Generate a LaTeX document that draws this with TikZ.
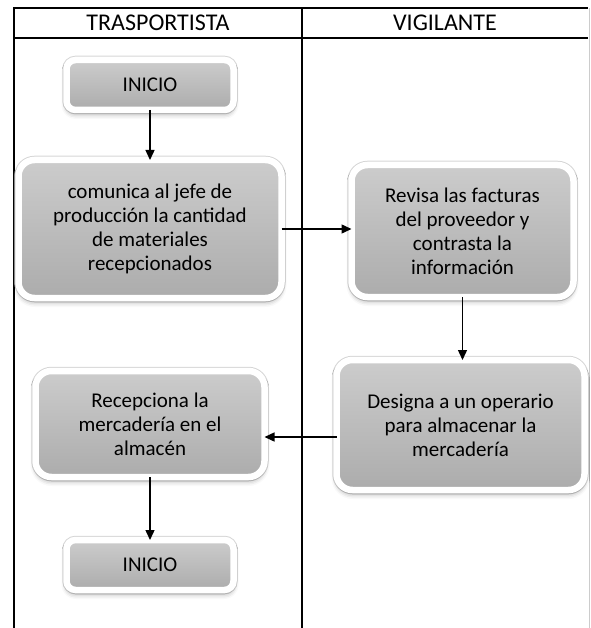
\documentclass[tikz,border=0pt]{standalone}
\usepackage{fontspec}
\setmainfont{Carlito}
\usepackage{tikz}
\usetikzlibrary{positioning, shapes.geometric, arrows.meta, shadows.blur}
\usetikzlibrary{calc}
\definecolor{cajaarriba}{RGB}{204,204,204}
\definecolor{cajamedio}{RGB}{195,195,195}
\definecolor{cajaabajo}{RGB}{172,172,172}
\tikzstyle{caja} = [rectangle, rounded corners=16pt, draw=white, line width=6.5pt, top color=cajaarriba, middle color=cajamedio, bottom color=cajaabajo, text centered, align=center, outer sep=0pt, inner sep=0pt, font=\fontsize{21}{24}\selectfont, text=black, preaction={draw=black!16, line width=8.5pt}, blur shadow={shadow xshift=0pt, shadow yshift=-4pt, shadow blur radius=5pt, shadow opacity=35}]
\tikzstyle{inicio} = [caja, rounded corners=9pt]
\tikzstyle{arrow} = [line width=1.4pt, -{Triangle[length=10pt,width=9pt]}]
\tikzstyle{linea} = [line width=1.1pt]
\tikzstyle{titulo} = [font=\fontsize{24}{28}\selectfont, text=black]

\begin{document}
\begin{tikzpicture}[x=1pt, y=-1pt]
		\useasboundingbox (0,0) rectangle (590,628);
		%tabla de las dos columnas
		\draw[linea] (14,628) -- (14,8) -- (588,8);
		\draw[line width=1.8pt] (14,38) -- (588,38);
		\draw[linea] (302,8) -- (302,628);
		\draw[line width=1pt, black!20] (589,8) -- (589,628);
		\node (col1) [titulo] at (158,23) {TRASPORTISTA};
		\node (col2) [titulo] at (445,23) {VIGILANTE};
		
		%cajas del proceso
		\node (inicio1) [inicio, minimum width=167pt, minimum height=50pt] at (150,85) {INICIO};
		\node (comunica) [caja, minimum width=263pt, minimum height=138pt] at (150,229) {comunica al jefe de\\producción la cantidad\\de materiales\\recepcionados};
		\node (revisa) [caja, minimum width=222pt, minimum height=132pt] at (462.5,231) {Revisa las facturas\\del proveedor y\\contrasta la\\información};
		\node (designa) [caja, minimum width=248pt, minimum height=130pt] at (460.5,425) {Designa a un operario\\para almacenar la\\mercadería};
		\node (recepciona) [caja, minimum width=229pt, minimum height=106pt] at (150,424) {Recepciona la\\mercadería en el\\almacén};
		\node (inicio2) [inicio, minimum width=167pt, minimum height=50pt] at (150,565) {INICIO};
		
		%flechas
		\draw [arrow](inicio1) -- (comunica);
		\draw [arrow](comunica.east) -- (comunica.east -| revisa.west);
		\draw [arrow](revisa.south) -- (revisa.south |- designa.north);
		\draw [arrow]([yshift=-12pt]designa.west) -- ([yshift=-12pt]designa.west -| recepciona.east);
		\draw [arrow](recepciona) -- (inicio2);
		
	\end{tikzpicture}
\end{document}
